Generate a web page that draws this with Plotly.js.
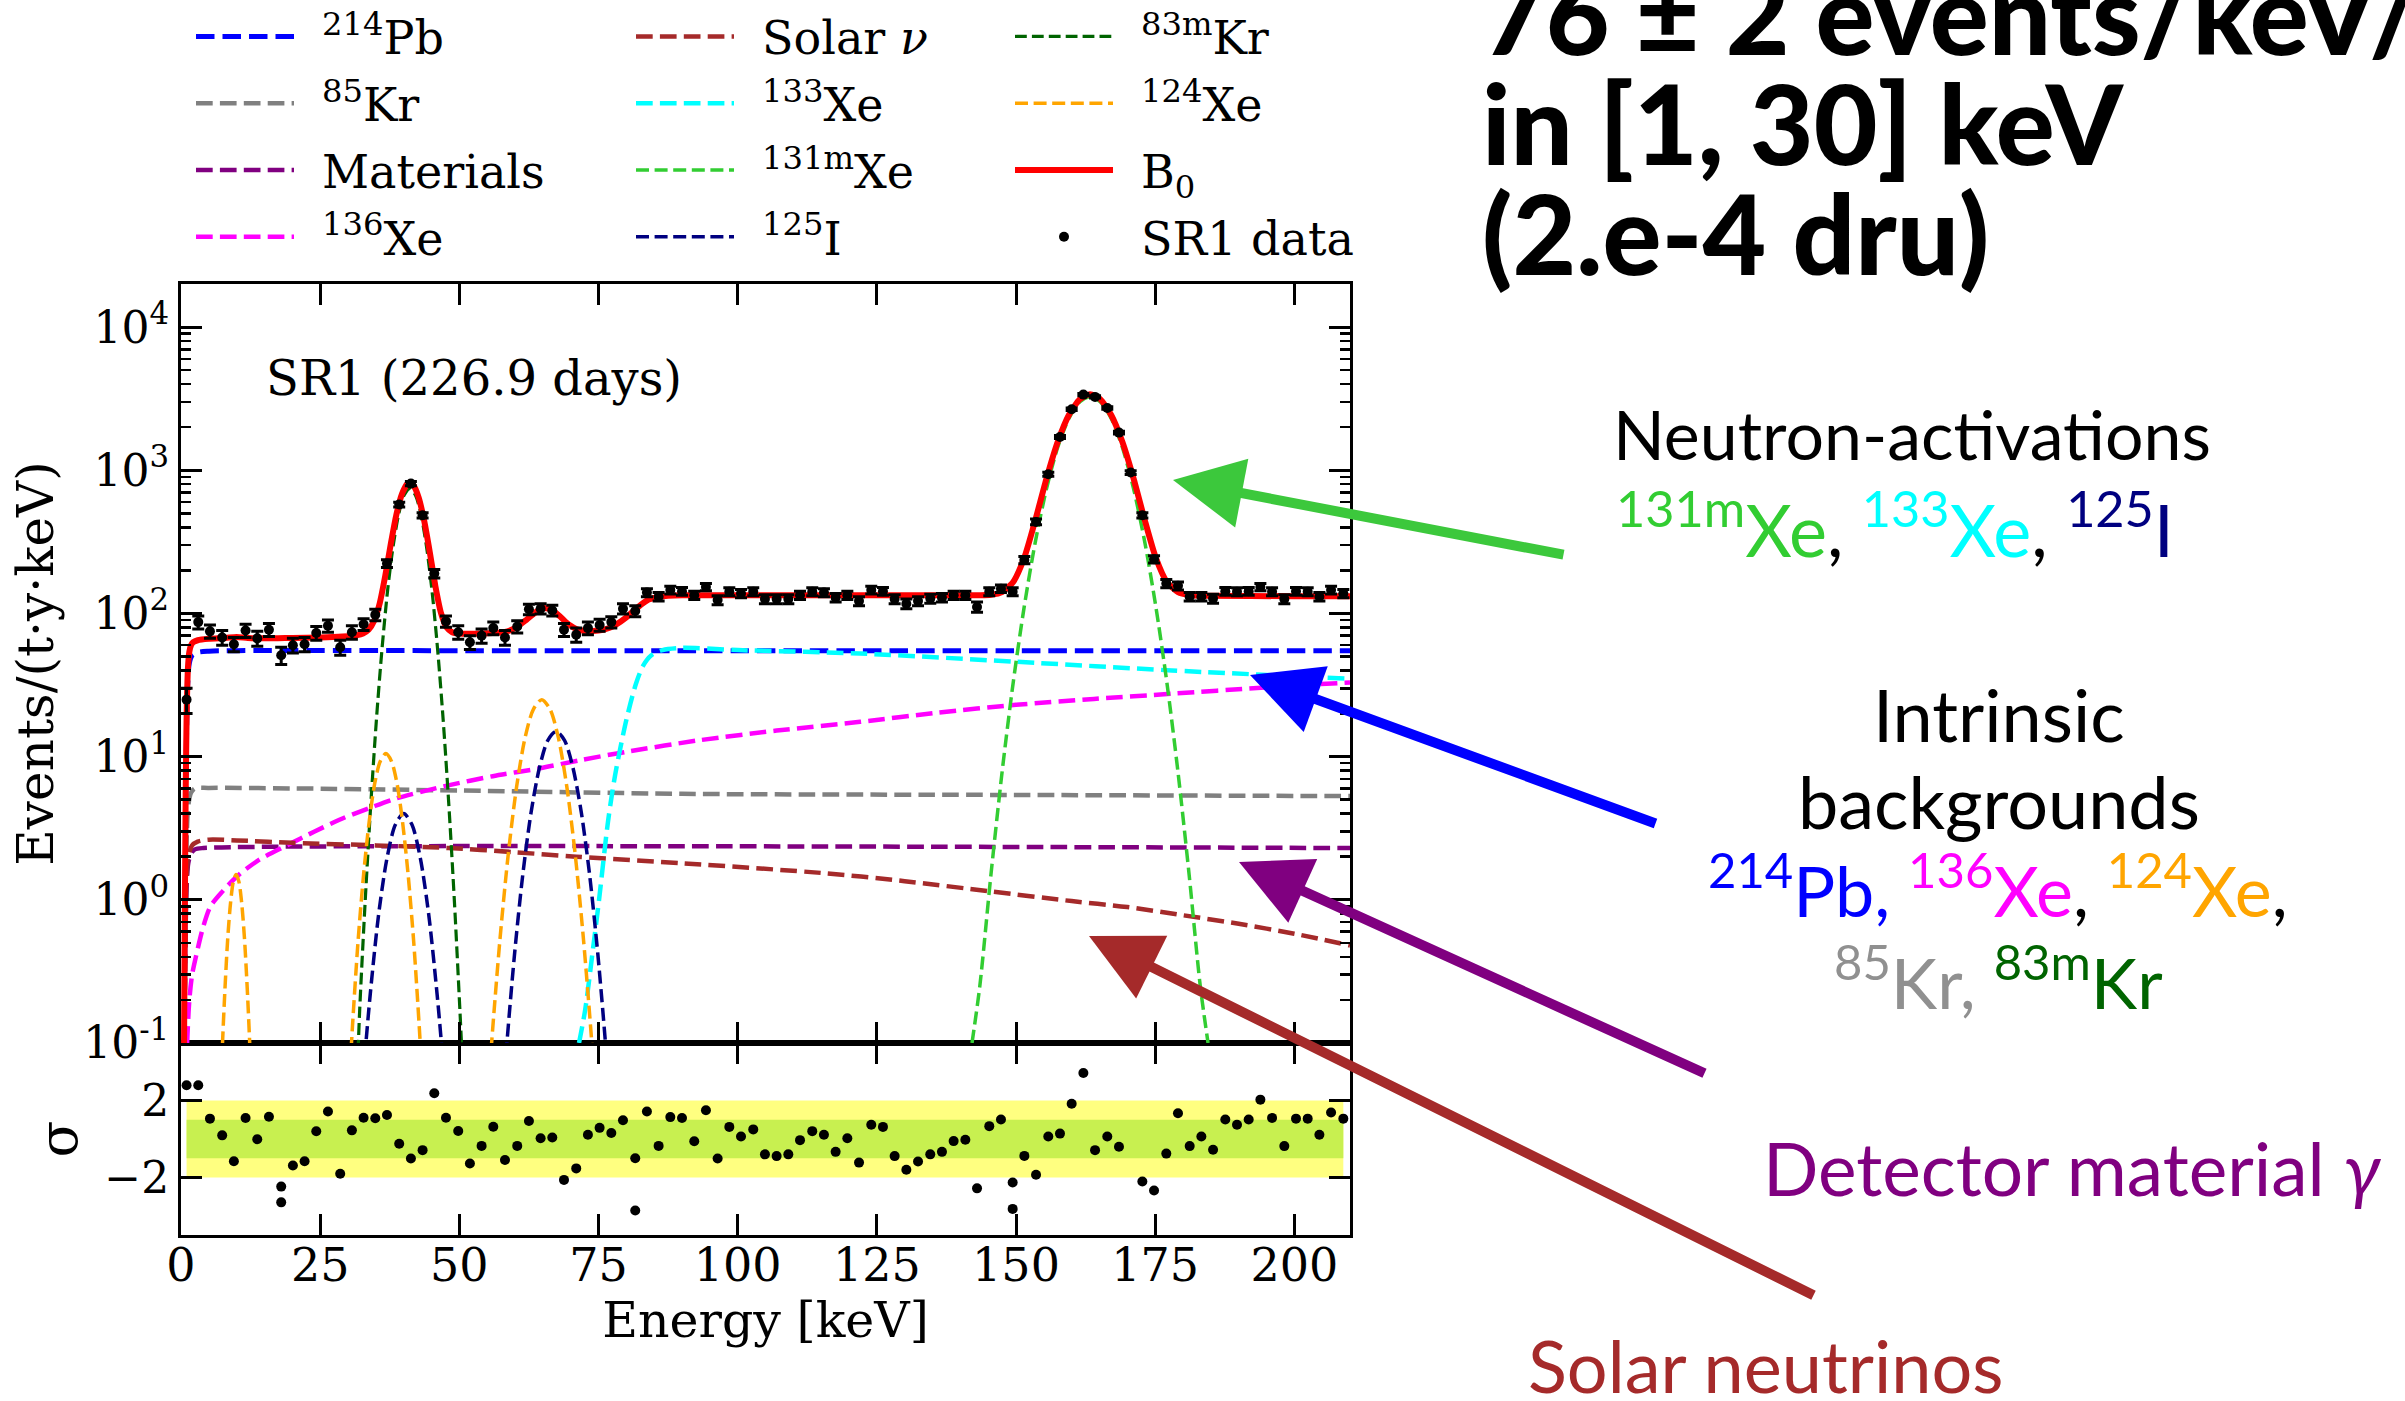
<!DOCTYPE html>
<html>
<head>
<meta charset="utf-8">
<script src="https://cdn.plot.ly/plotly-3.0.1.min.js"></script>
<style>
  html, body { margin: 0; padding: 0; background: #ffffff; }
  #chart { width: 2405px; height: 1401px; }
</style>
</head>
<body>
<div id="chart"></div>
<script>
// ---------- SR1 spectrum: binned data (keV, events/(t·y·keV)) ----------
const binEnergy = [1.0, 3.1, 5.2, 7.4, 9.5, 11.6, 13.7, 15.8, 18.0, 20.1,
  22.2, 24.3, 26.4, 28.6, 30.7, 32.8, 34.9, 37.0, 39.2, 41.3,
  43.4, 45.5, 47.6, 49.8, 51.9, 54.0, 56.1, 58.2, 60.4, 62.5,
  64.6, 66.7, 68.8, 71.0, 73.1, 75.2, 77.3, 79.4, 81.6, 83.7,
  85.8, 87.9, 90.0, 92.2, 94.3, 96.4, 98.5, 100.6, 102.8, 104.9,
  107.0, 109.1, 111.2, 113.4, 115.5, 117.6, 119.7, 121.8, 124.0, 126.1,
  128.2, 130.3, 132.4, 134.6, 136.7, 138.8, 140.9, 143.0, 145.2, 147.3,
  149.4, 151.5, 153.6, 155.8, 157.9, 160.0, 162.1, 164.2, 166.4, 168.5,
  170.6, 172.7, 174.8, 177.0, 179.1, 181.2, 183.3, 185.4, 187.6, 189.7,
  191.8, 193.9, 196.0, 198.2, 200.3, 202.4, 204.5, 206.6, 208.8];

const binRate = [25, 87, 75, 68, 61, 76, 67, 77, 51, 60,
  61, 73, 82, 58, 74, 84, 98, 223, 576, 807,
  485, 190, 88, 74, 63, 70, 79, 68, 81, 107,
  108, 105, 77, 71, 79, 83, 87, 108, 104, 140,
  131, 146, 143, 134, 153, 124, 142, 138, 142, 126,
  126, 126, 134, 142, 140, 129, 134, 122, 146, 143,
  126, 117, 122, 127, 129, 134, 134, 111, 142, 149,
  142, 236, 436, 938, 1709, 2668, 3377, 3254, 2723, 1833,
  964, 485, 239, 162, 156, 131, 131, 127, 143, 142,
  143, 153, 142, 126, 143, 142, 131, 146, 138];

const binError = [5, 9, 8, 8, 7, 8, 8, 8, 7, 7,
  7, 8, 8, 7, 8, 8, 9, 14, 22, 28,
  21, 13, 8, 8, 7, 8, 8, 8, 8, 9,
  9, 9, 8, 8, 8, 8, 8, 9, 9, 9,
  9, 9, 9, 9, 9, 9, 9, 9, 9, 9,
  9, 9, 9, 9, 9, 9, 9, 9, 9, 9,
  9, 9, 9, 9, 9, 9, 9, 9, 9, 9,
  9, 14, 20, 30, 40, 50, 56, 55, 50, 41,
  30, 21, 14, 11, 10, 9, 9, 9, 9, 9,
  9, 9, 9, 9, 9, 9, 9, 9, 9];

// ---------- residuals (σ) ----------
const resEnergy = [1.0, 3.1, 5.2, 7.4, 9.5, 11.6, 13.7, 15.8, 18.0, 20.1,
  22.2, 24.3, 26.4, 28.6, 30.7, 32.8, 34.9, 37.0, 39.2, 41.3,
  43.4, 45.5, 47.6, 49.8, 51.9, 54.0, 56.1, 58.2, 60.4, 62.5,
  64.6, 66.7, 68.8, 71.0, 73.1, 75.2, 77.3, 79.4, 81.6, 83.7,
  85.8, 87.9, 90.0, 92.2, 94.3, 96.4, 98.5, 100.6, 102.8, 104.9,
  107.0, 109.1, 111.2, 113.4, 115.5, 117.6, 119.7, 121.8, 124.0, 126.1,
  128.2, 130.3, 132.4, 134.6, 136.7, 138.8, 140.9, 143.0, 145.2, 147.3,
  149.4, 151.5, 153.6, 155.8, 157.9, 160.0, 162.1, 164.2, 166.4, 168.5,
  172.7, 174.8, 177.0, 179.1, 181.2, 183.3, 185.4, 187.6, 189.7,
  191.8, 193.9, 196.0, 198.2, 200.3, 202.4, 204.5, 206.6, 208.8,
  18.0, 81.6, 149.4];

const resSigma = [2.8, 2.8, 1.06, 0.19, -1.16, 1.09, -0.01, 1.16, -2.48, -1.38,
  -1.16, 0.4, 1.43, -1.81, 0.45, 1.11, 1.08, 1.25, -0.25, -1.02,
  -0.58, 2.38, 1.11, 0.42, -1.28, -0.36, 0.64, -1.09, -0.36, 0.94,
  0.04, 0.08, -2.13, -1.53, 0.22, 0.58, 0.31, 0.98, -1.0, 1.43,
  -0.36, 1.14, 1.09, -0.12, 1.5, -1.02, 0.63, 0.13, 0.5, -0.8,
  -0.89, -0.8, -0.06, 0.41, 0.22, -0.67, 0.04, -1.23, 0.74, 0.63,
  -0.89, -1.6, -1.17, -0.8, -0.67, -0.11, -0.04, -2.57, 0.67, 1.02,
  -2.27, -0.88, -1.86, 0.13, 0.28, 1.84, 3.44, -0.58, 0.13, -0.4,
  -2.21, -2.68, -0.76, 1.34, -0.37, 0.13, -0.56, 1.02, 0.74,
  1.02, 2.05, 1.1, -0.37, 1.06, 1.06, 0.22, 1.38, 1.06,
  -3.3, -3.72, -3.64];

const sigmaBands = [2, 1];

// ---------- fitted background components ----------
const pb214E = [0.6, 0.8, 1.0, 1.2, 1.5, 2.0, 3.0, 5.0, 10, 50, 100, 150, 210];
const pb214V = [0.1, 2, 15, 32, 45, 51, 53.5, 54.5, 55, 55, 55, 55, 55];

const kr85E = [0.6, 0.8, 1.0, 1.3, 1.8, 2.5, 5, 20, 50, 90, 150, 210];
const kr85V = [0.1, 0.8, 2.5, 4.5, 5.6, 6.0, 6.05, 6.0, 5.8, 5.5, 5.4, 5.3];

const materialsE = [0.6, 0.8, 1.0, 1.3, 1.8, 2.5, 4, 210];
const materialsV = [0.1, 0.5, 1.2, 1.8, 2.1, 2.25, 2.3, 2.3];

const xe136E = [1.1, 1.5, 2.0, 2.8, 4, 5.3, 7.5, 10, 14, 19, 24, 29, 34, 38.6, 48, 56,
  64.5, 72, 80, 93, 107, 122, 136, 150, 164, 178, 194, 210];
const xe136V = [0.1, 0.2, 0.3, 0.42, 0.65, 0.9, 1.15, 1.45, 1.9, 2.4, 3.0, 3.7, 4.4, 5.1, 6.3, 7.3,
  8.3, 9.5, 10.8, 13, 15.2, 17.5, 20.3, 23, 25.3, 27.5, 30.3, 33];

const solarE = [0.6, 0.8, 1.0, 1.3, 2, 3, 5, 10, 20, 35, 48, 60, 71, 90, 116, 130, 145,
  160, 170, 180, 190, 200, 210];
const solarV = [0.1, 0.6, 1.4, 2.0, 2.4, 2.55, 2.63, 2.6, 2.5, 2.4, 2.3, 2.15, 2.0, 1.8, 1.53, 1.35, 1.15,
  0.98, 0.89, 0.78, 0.68, 0.58, 0.48];

const xe133E = [71.5, 72.6, 74, 75.1, 76.7, 78, 80, 81.7, 83, 84.5, 86.5, 90, 100, 122, 150, 178, 210];
const xe133V = [0.1, 0.17, 0.45, 1.0, 3.5, 7.5, 18, 32, 43, 51, 55.5, 57.5, 55.5, 52.5, 46, 40, 35];

const xe131mE = [142.1, 143.5, 145.5, 147.5, 149.5, 151.5, 153.5, 155.5, 157.5, 159.5, 161.5, 163.3,
  165.1, 167.1, 169.1, 171.1, 173.1, 175.1, 177.1, 179.1, 181.1, 183.1, 184.5];
const xe131mV = [0.1, 0.25, 1.5, 7.8, 33, 113, 320, 749, 1447, 2300, 3015, 3260,
  3015, 2300, 1447, 749, 320, 113, 33, 7.8, 1.5, 0.25, 0.1];

const i125E = [32, 33, 34, 35.5, 37, 38.5, 40, 41.5, 43, 44.5, 46, 47, 48, null,
  57.4, 58.4, 59.9, 61.4, 62.9, 64.4, 65.9, 67.4, 68.9, 70.4, 71.9, 73.4, 74.9, 76.4, 77.4];
const i125V = [0.024, 0.079, 0.22, 0.79, 1.95, 3.34, 4, 3.34, 1.95, 0.79, 0.22, 0.079, 0.024, null,
  0.025, 0.085, 0.41, 1.5, 4.1, 8.4, 13, 15, 13, 8.4, 4.1, 1.5, 0.41, 0.085, 0.025];

const kr83mE = [31.7, 32.1, 33.1, 34.1, 35.1, 36.1, 37.1, 38.1, 39.1, 40.1, 41.1,
  42.1, 43.1, 44.1, 45.1, 46.1, 47.1, 48.1, 49.1, 50.1, 50.6];
const kr83mV = [0.066, 0.17, 1.0, 4.7, 18, 56, 143, 294, 493, 672, 745,
  672, 493, 294, 143, 56, 18, 4.7, 1.0, 0.17, 0.066];

const xe124E = [7.1, 7.4, 7.9, 8.4, 8.9, 9.4, 9.9, 10.4, 10.9, 11.4, 11.9, 12.4, 12.7, null,
  29.8, 30.8, 31.8, 32.8, 33.8, 34.8, 35.8, 36.8, 37.8, 38.8, 39.8, 40.8, 41.8, 42.8, 43.8, null,
  54.8, 55.8, 57.3, 58.8, 60.3, 61.8, 63.3, 64.8, 66.3, 67.8, 69.3, 70.8, 72.3, 73.8, 74.8];
const xe124V = [0.04, 0.088, 0.24, 0.54, 0.95, 1.34, 1.5, 1.34, 0.95, 0.54, 0.24, 0.088, 0.04, null,
  0.027, 0.13, 0.51, 1.5, 3.5, 6.5, 9.3, 10.5, 9.3, 6.5, 3.5, 1.5, 0.51, 0.13, 0.027, null,
  0.027, 0.1, 0.53, 2.1, 6.2, 13.5, 21.4, 25, 21.4, 13.5, 6.2, 2.1, 0.53, 0.1, 0.027];

// total background model B0
const b0E = [0.55, 0.7, 0.85, 1.0, 1.1, 1.25, 1.5, 1.8, 2.2, 3, 5, 8, 10, 12, 15, 20, 25, 29,
  31.7, 32.7, 33.7, 34.7, 35.7, 36.7, 37.7, 38.7, 39.7, 40.7, 41.1, 41.7, 42.7, 43.7, 44.7, 45.7,
  46.7, 47.7, 48.7, 50, 52, 54, 56, 58, 60, 62, 64, 65, 66, 67, 68, 69, 70, 71, 72, 73, 74, 75,
  76, 77, 78, 80, 82, 84, 86, 90, 100, 120, 140, 143.5, 145.5, 147.5, 149.5, 151.5, 153.5,
  155.5, 157.5, 159.5, 161.5, 163.3, 165.1, 167.1, 169.1, 171.1, 173.1, 175.1, 177.1, 179.1,
  181.1, 184, 200, 210];
const b0V = [0.1, 1, 6, 18, 28, 42, 54, 60, 63, 65, 66.5, 67.5, 68.5, 67.5, 67, 67.5, 68, 69,
  70.6, 72.5, 77, 89, 118, 184, 308, 492, 685, 809, 820, 792, 644, 441, 267, 155,
  101, 80, 74, 72.4, 72.2, 72.5, 73, 74, 79, 90, 104, 109, 108, 103, 96, 88, 82, 78, 76, 75.5, 75.5, 76,
  77.2, 79.5, 83, 94, 110, 125, 131, 134, 134, 134, 134, 134, 135, 141, 166, 246, 453,
  882, 1580, 2433, 3148, 3393, 3148, 2433, 1580, 882, 453, 246, 166, 141,
  134.5, 133, 132, 132];

// ---------- axis ticks ----------
const energyTicks = [0, 25, 50, 75, 100, 125, 150, 175, 200];
const rateTickVals = [0.1, 1, 10, 100, 1000, 10000];
const rateTickText = ['10<sup>-1</sup>', '10<sup>0</sup>', '10<sup>1</sup>', '10<sup>2</sup>', '10<sup>3</sup>', '10<sup>4</sup>'];
const sigmaTicks = [-2, 2];

// ---------- helpers ----------
const SERIF = 'DejaVu Serif';
const SANS = 'Lato';
const GAP = '\u2002';   // spacing between legend sample and label

function component(name, xs, ys, color, width, legend) {
  return {
    type: 'scatter', mode: 'lines', name: GAP + name, x: xs, y: ys,
    xaxis: 'x2', yaxis: 'y', legend: legend, legendgroup: name,
    line: { color: color, width: width, dash: (3.7 * width).toFixed(1) + 'px,' + (1.6 * width).toFixed(1) + 'px', shape: 'spline', smoothing: 0.8 },
    connectgaps: false, hoverinfo: 'skip'
  };
}

const traces = [
  component('<sup>214</sup>Pb', pb214E, pb214V, '#0000ff', 5, 'legend'),
  component('<sup>85</sup>Kr', kr85E, kr85V, '#808080', 4.5, 'legend'),
  component('Materials', materialsE, materialsV, '#800080', 4.5, 'legend'),
  component('<sup>136</sup>Xe', xe136E, xe136V, '#ff00ff', 4.5, 'legend'),
  component('Solar <i>ν</i>', solarE, solarV, '#a52a2a', 4.5, 'legend2'),
  component('<sup>133</sup>Xe', xe133E, xe133V, '#00ffff', 4.5, 'legend2'),
  component('<sup>131m</sup>Xe', xe131mE, xe131mV, '#32cd32', 3.5, 'legend2'),
  component('<sup>125</sup>I', i125E, i125V, '#000080', 3.5, 'legend2'),
  component('<sup>83m</sup>Kr', kr83mE, kr83mV, '#006400', 3.2, 'legend3'),
  component('<sup>124</sup>Xe', xe124E, xe124V, '#ffa500', 3.5, 'legend3'),
  {
    type: 'scatter', mode: 'lines', name: GAP + 'B<sub>0</sub>', x: b0E, y: b0V,
    xaxis: 'x2', yaxis: 'y', legend: 'legend3', legendgroup: 'B0',
    line: { color: '#ff0000', width: 6, shape: 'spline', smoothing: 0.6 }, hoverinfo: 'skip'
  },
  {
    type: 'scatter', mode: 'markers', name: GAP + 'SR1 data', x: binEnergy, y: binRate,
    xaxis: 'x2', yaxis: 'y', legend: 'legend3', legendgroup: 'data',
    marker: { color: '#000000', size: 10 },
    error_y: { type: 'data', array: binError, visible: true, color: '#000000', thickness: 3, width: 6 }
  },
  {
    type: 'scatter', mode: 'markers', name: 'residual', x: resEnergy, y: resSigma,
    xaxis: 'x', yaxis: 'y2', showlegend: false,
    marker: { color: '#000000', size: 10 }
  }
];

// ---------- layout ----------
const W = 2405, H = 1401;
const px = v => v / W;           // horizontal pixel -> paper
const py = v => 1 - v / H;       // vertical pixel (from top) -> paper

const plotX = [px(181), px(1350)];
const mainY = [py(1043), py(284)];
const resY = [py(1235), py(1043)];

const tickFont = { family: SERIF, size: 46, color: '#000' };

const axisCommon = {
  showline: true, linecolor: '#000', linewidth: 3, mirror: 'ticks',
  ticks: 'inside', ticklen: 21, tickwidth: 3, tickcolor: '#000',
  showgrid: false, zeroline: false, tickfont: tickFont
};

function legendBox(xPix) {
  return {
    x: px(xPix), y: py(0), xanchor: 'left', yanchor: 'top',
    orientation: 'v', bgcolor: 'rgba(0,0,0,0)', borderwidth: 0,
    font: { family: SERIF, size: 46, color: '#000' },
    itemwidth: 98, tracegroupgap: 4, traceorder: 'grouped'
  };
}

function arrow(headX, headY, tailX, tailY, color) {
  return {
    xref: 'paper', yref: 'paper', x: px(headX), y: py(headY),
    ax: tailX - headX, ay: tailY - headY, axref: 'pixel', ayref: 'pixel',
    text: '', showarrow: true, arrowhead: 2, arrowsize: 1.4, arrowwidth: 10,
    arrowcolor: color, standoff: 0
  };
}

function label(text, xPix, yPix, size, color, anchor, weight) {
  return {
    xref: 'paper', yref: 'paper', x: px(xPix), y: py(yPix),
    xanchor: anchor || 'left', yanchor: 'middle', showarrow: false,
    text: text, font: { family: SANS, size: size, color: color || '#000', weight: weight || 400 }
  };
}

const layout = {
  width: W, height: H,
  margin: { l: 0, r: 0, t: 0, b: 0 },
  paper_bgcolor: '#ffffff', plot_bgcolor: '#ffffff',
  showlegend: true,
  legend: legendBox(191),
  legend2: legendBox(631),
  legend3: legendBox(1010),
  xaxis: Object.assign({}, axisCommon, {
    domain: plotX, anchor: 'y2', range: [0, 210], tickvals: energyTicks,
    ticklabelstandoff: -12,
    title: { text: 'Energy [keV]', font: { family: SERIF, size: 49, color: '#000' }, standoff: 0 }
  }),
  xaxis2: Object.assign({}, axisCommon, {
    domain: plotX, anchor: 'y', matches: 'x', range: [0, 210], tickvals: energyTicks,
    showticklabels: false
  }),
  yaxis: Object.assign({}, axisCommon, {
    domain: mainY, anchor: 'x2', type: 'log', range: [-1, Math.log10(20000)],
    tickvals: rateTickVals, ticktext: rateTickText,
    tickfont: { family: SERIF, size: 44, color: '#000' },
    minor: { ticks: 'inside', ticklen: 10, tickwidth: 2.5, tickcolor: '#000', dtick: 'D1', showgrid: false },
    title: { text: 'Events/(t·y·keV)', font: { family: SERIF, size: 50, color: '#000' }, standoff: 14 }
  }),
  yaxis2: Object.assign({}, axisCommon, {
    domain: resY, anchor: 'x', range: [-5, 5], tickvals: sigmaTicks,
    tickfont: { family: SERIF, size: 44, color: '#000' },
    title: { text: 'σ', font: { family: SERIF, size: 54, color: '#000' }, standoff: 10 }
  }),
  shapes: [
    { type: 'rect', xref: 'x', yref: 'y2', x0: binEnergy[0], x1: binEnergy[binEnergy.length - 1],
      y0: -sigmaBands[0], y1: sigmaBands[0], fillcolor: '#ffff80', line: { width: 0 }, layer: 'below' },
    { type: 'rect', xref: 'x', yref: 'y2', x0: binEnergy[0], x1: binEnergy[binEnergy.length - 1],
      y0: -sigmaBands[1], y1: sigmaBands[1], fillcolor: '#c8f050', line: { width: 0 }, layer: 'below' }
  ],
  annotations: [
    { xref: 'paper', yref: 'paper', x: px(264), y: py(378), xanchor: 'left', yanchor: 'middle',
      showarrow: false, text: 'SR1 (226.9 days)', font: { family: SERIF, size: 48, color: '#000' } },

    label('76 ± 2 events/keV/t/y', 1480, 12, 110, '#000', 'left', 900),
    label('in [1, 30] keV', 1480, 122, 110, '#000', 'left', 900),
    label('(2.e-4 dru)', 1480, 232, 110, '#000', 'left', 900),

    label('Neutron-activations', 1912, 434, 68, '#000', 'center'),
    label('<span style="color:#32cd32"><sup>131m</sup>Xe</span>, <span style="color:#00ffff"><sup>133</sup>Xe</span>, <span style="color:#000080"><sup>125</sup>I</span>',
      1895, 524, 72, '#000', 'center'),
    label('Intrinsic', 1999, 714, 72, '#000', 'center'),
    label('backgrounds', 1999, 801, 72, '#000', 'center'),
    label('<span style="color:#0000ff"><sup>214</sup>Pb,</span> <span style="color:#ff00ff"><sup>136</sup>Xe</span>, <span style="color:#ffa500"><sup>124</sup>Xe</span>,',
      1998, 886, 70, '#000', 'center'),
    label('<span style="color:#909090"><sup>85</sup>Kr,</span> <span style="color:#006400"><sup>83m</sup>Kr</span>',
      1998, 978, 70, '#000', 'center'),
    label('Detector material <i>γ</i>', 2072, 1168, 73, '#800080', 'center'),
    label('Solar neutrinos', 1765, 1365, 72, '#a52a2a', 'center'),

    arrow(1173, 480, 1565, 555, '#3cc83c'),
    arrow(1250, 675, 1657, 824, '#0000ff'),
    arrow(1239, 862, 1706, 1074, '#800080'),
    arrow(1089, 936, 1815, 1296, '#a52a2a')
  ]
};

Plotly.newPlot('chart', traces, layout, { displayModeBar: false, staticPlot: true });
</script>
</body>
</html>
